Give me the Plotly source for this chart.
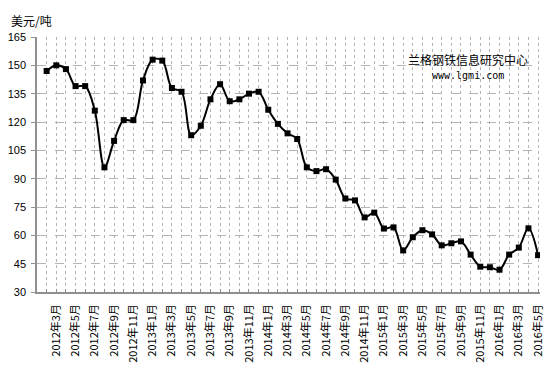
import plotly.graph_objects as go

# Monthly data, 2012-02 .. 2016-05
months = []
y, m = 2012, 2
for _ in range(52):
    months.append(f"{y}年{m}月")
    m += 1
    if m > 12:
        m = 1
        y += 1

prices = [147, 150, 148, 139, 139, 126, 96, 110, 121, 121,
          142, 153, 152.5, 138, 136, 113, 118, 132, 140, 131, 132, 135,
          136, 126.5, 119, 114, 111, 96, 94, 95, 89.5, 79.5, 78.5, 69.5,
          72, 63.6, 64.2, 52, 59, 62.7, 60.5, 54.7, 55.8, 56.8, 49.8, 43.4,
          43.1, 41.8, 49.8, 53.5, 63.7, 49.5]

y_ticks = [30, 45, 60, 75, 90, 105, 120, 135, 150, 165]
tick_idx = list(range(1, 52, 2))
tick_labels = [months[i] for i in tick_idx]

x = list(range(len(prices)))

fig = go.Figure()
fig.add_trace(go.Scatter(
    x=x, y=prices, mode="lines+markers",
    line=dict(color="#000000", width=2, shape="spline", smoothing=1.0),
    marker=dict(symbol="square", size=6, color="#000000"),
    hoverinfo="skip"
))

fig.update_layout(
    width=545, height=363,
    margin=dict(l=29, r=13, t=29, b=79, autoexpand=False),
    paper_bgcolor="white", plot_bgcolor="white",
    showlegend=False,
    font=dict(family="Liberation Sans, Arial, sans-serif", size=12, color="#000"),
    xaxis=dict(
        range=[-1, 51.2], automargin=False,
        tickmode="array", tickvals=tick_idx, ticktext=tick_labels,
        tickangle=-90,
        tickfont=dict(family="Noto Sans CJK SC, sans-serif", size=11),
        showgrid=True, gridcolor="#b4b4b4", griddash="dot", gridwidth=1,
        minor=dict(tickmode="linear", tick0=0, dtick=1, showgrid=True,
                   gridcolor="#b4b4b4", griddash="dot", gridwidth=1,
                   ticks="inside", ticklen=3, tickcolor="#909090"),
        ticks="inside", ticklen=3, tickcolor="#909090",
        ticklabelstandoff=6,
        showline=True, linecolor="#909090", linewidth=1.5,
        zeroline=False,
    ),
    yaxis=dict(
        range=[30, 165], automargin=False,
        tickmode="array", tickvals=y_ticks,
        showgrid=True, gridcolor="#b4b4b4", griddash="dash", gridwidth=1,
        ticks="outside", ticklen=4, tickcolor="#909090",
        ticklabelstandoff=3,
        showline=True, linecolor="#909090", linewidth=1.5,
        zeroline=False,
        tickfont=dict(size=11),
    ),
    annotations=[
        dict(text="美元/吨", xref="paper", yref="paper", x=-0.055, y=1.105,
             xanchor="left", yanchor="top", showarrow=False,
             font=dict(family="Noto Sans CJK SC, sans-serif", size=12, color="#000")),
        dict(text="兰格钢铁信息研究中心", xref="paper", yref="paper", x=0.857, y=0.912,
             xanchor="center", yanchor="middle", showarrow=False,
             font=dict(family="Noto Sans CJK SC, sans-serif", size=12, color="#000")),
        dict(text="www.lgmi.com", xref="paper", yref="paper", x=0.857, y=0.85,
             xanchor="center", yanchor="middle", showarrow=False,
             font=dict(family="DejaVu Sans Mono, Liberation Mono, monospace", size=10, color="#000")),
    ],
)

fig.write_html("out.html")
